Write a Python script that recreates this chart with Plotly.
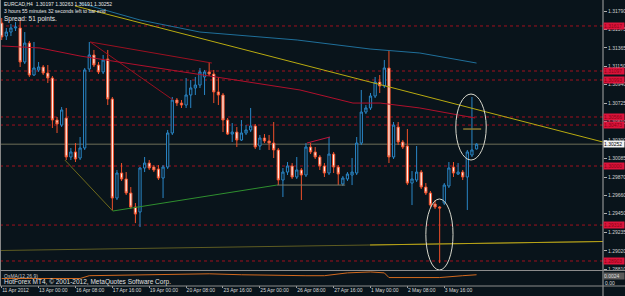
import plotly.graph_objects as go

# ---------------- data ----------------
bars = list(range(104))
opens = [1.31651, 1.31501, 1.31547, 1.31594, 1.31594, 1.31201, 1.31420, 1.31051, 1.31109, 1.31143,
         1.31074, 1.31016, 1.30531, 1.30473, 1.30554, 1.30104, 1.30162, 1.30092, 1.30208, 1.31120,
         1.31282, 1.31166, 1.31086, 1.31236, 1.30774, 1.29630, 1.29919, 1.29850, 1.29688, 1.29526,
         1.29469, 1.29977, 1.30034, 1.29988, 1.29965, 1.29861, 1.29988, 1.30381, 1.30762, 1.30727,
         1.30704, 1.30820, 1.30901, 1.30935, 1.31028, 1.31086, 1.31062, 1.30855, 1.30820, 1.30531,
         1.30369, 1.30392, 1.30300, 1.30381, 1.30416, 1.30462, 1.30231, 1.30323, 1.30289, 1.30265,
         1.30185, 1.29838, 1.29930, 1.30000, 1.29873, 1.29954, 1.29896, 1.30219, 1.30162, 1.30104,
         1.30000, 1.29919, 1.30138, 1.29988, 1.29792, 1.29850, 1.29896, 1.29919, 1.30265, 1.30623,
         1.30670, 1.30808, 1.30970, 1.30924, 1.31132, 1.30104, 1.30450, 1.30277, 1.30231, 1.29803,
         1.29838, 1.29930, 1.29757, 1.29688, 1.29561, 1.29526, 1.29572, 1.29769, 1.29988, 1.29907,
         1.29930, 1.29873, 1.30127, 1.30197]
highs = [1.31709, 1.31594, 1.31640, 1.31663, 1.31686, 1.31547, 1.31444, 1.31432, 1.31201, 1.31166,
         1.31166, 1.31039, 1.30566, 1.30681, 1.30670, 1.30208, 1.30265, 1.30335, 1.31132, 1.31432,
         1.31340, 1.31201, 1.31282, 1.31340, 1.30797, 1.29954, 1.30034, 1.29930, 1.29757, 1.29572,
         1.29988, 1.30104, 1.30069, 1.30011, 1.30011, 1.30011, 1.30416, 1.30797, 1.30785, 1.30762,
         1.31016, 1.30993, 1.31028, 1.31132, 1.31109, 1.31201, 1.31109, 1.31028, 1.30843, 1.30554,
         1.30496, 1.30450, 1.30531, 1.30473, 1.30670, 1.30485, 1.30358, 1.30369, 1.30358, 1.30508,
         1.30208, 1.29977, 1.30046, 1.30034, 1.30104, 1.29977, 1.30265, 1.30265, 1.30219, 1.30127,
         1.30034, 1.30335, 1.30162, 1.30011, 1.29884, 1.29930, 1.30092, 1.30335, 1.30878, 1.30704,
         1.30843, 1.31028, 1.31051, 1.31224, 1.31340, 1.30508, 1.30508, 1.30300, 1.30427, 1.29942,
         1.30231, 1.29954, 1.29803, 1.29711, 1.29607, 1.29538, 1.29803, 1.30046, 1.30046, 1.30034,
         1.29954, 1.30185, 1.30797, 1.30263]
lows = [1.31455, 1.31455, 1.31501, 1.31559, 1.31143, 1.31178, 1.31028, 1.31039, 1.31086, 1.31051,
        1.30958, 1.30439, 1.30381, 1.30450, 1.30069, 1.30069, 1.30046, 1.30069, 1.30185, 1.31086,
        1.31143, 1.31062, 1.31062, 1.30704, 1.29492, 1.29607, 1.29827, 1.29665, 1.29503, 1.29341,
        1.29295, 1.29930, 1.29954, 1.29930, 1.29838, 1.29630, 1.29965, 1.30358, 1.30693, 1.30670,
        1.30670, 1.30670, 1.30820, 1.30901, 1.30820, 1.31039, 1.30727, 1.30704, 1.30392, 1.30358,
        1.30277, 1.30219, 1.30289, 1.30358, 1.30392, 1.30196, 1.30185, 1.30265, 1.30185, 1.30092,
        1.29780, 1.29642, 1.29896, 1.29850, 1.29850, 1.29607, 1.29873, 1.30138, 1.30081, 1.29954,
        1.29873, 1.29896, 1.29919, 1.29780, 1.29769, 1.29827, 1.29780, 1.29896, 1.30242, 1.30600,
        1.30647, 1.30785, 1.30843, 1.30901, 1.30034, 1.30081, 1.30242, 1.30196, 1.29780, 1.29549,
        1.29815, 1.29734, 1.29665, 1.29526, 1.29503, 1.28879, 1.29549, 1.29746, 1.29873, 1.29896,
        1.29838, 1.29492, 1.30104, 1.30191]
closes = [1.31490, 1.31547, 1.31594, 1.31605, 1.31201, 1.31420, 1.31051, 1.31132, 1.31143, 1.31074,
          1.31016, 1.30531, 1.30485, 1.30647, 1.30104, 1.30162, 1.30081, 1.30208, 1.31109, 1.31282,
          1.31166, 1.31086, 1.31224, 1.30774, 1.29630, 1.29919, 1.29850, 1.29688, 1.29526, 1.29445,
          1.29977, 1.30034, 1.29977, 1.29954, 1.29861, 1.29988, 1.30381, 1.30762, 1.30727, 1.30704,
          1.30820, 1.30901, 1.30935, 1.31086, 1.31086, 1.31062, 1.30855, 1.30820, 1.30531, 1.30369,
          1.30392, 1.30300, 1.30381, 1.30416, 1.30462, 1.30219, 1.30323, 1.30289, 1.30265, 1.30185,
          1.29838, 1.29930, 1.30000, 1.29873, 1.29954, 1.29896, 1.30219, 1.30162, 1.30104, 1.30000,
          1.29919, 1.30138, 1.29988, 1.29907, 1.29861, 1.29907, 1.29930, 1.30265, 1.30623, 1.30670,
          1.30808, 1.30970, 1.30924, 1.31132, 1.30104, 1.30473, 1.30277, 1.30219, 1.29803, 1.29850,
          1.29930, 1.29757, 1.29688, 1.29549, 1.29526, 1.29515, 1.29780, 1.29977, 1.29919, 1.29930,
          1.29873, 1.30162, 1.30185, 1.30252]

x_tick_bars = [0, 8, 16, 24, 32, 40, 48, 56, 64, 72, 80, 88, 96]
x_tick_text = ["11 Apr 2012", "13 Apr 00:00", "16 Apr 08:00", "17 Apr 16:00", "19 Apr 00:00",
               "20 Apr 08:00", "23 Apr 16:00", "25 Apr 00:00", "26 Apr 08:00", "27 Apr 16:00",
               "1 May 00:00", "2 May 08:00", "3 May 16:00"]
price_ticks = [1.31790, 1.31575, 1.31365, 1.31150, 1.30940, 1.30725, 1.30510, 1.30300,
               1.30085, 1.29870, 1.29660, 1.29450, 1.29235, 1.29020, 1.28810]
level_prices = [1.31617, 1.31097, 1.30993, 1.30566, 1.30473, 1.30000, 1.29318, 1.28903]
bid_price = 1.30252

yellow_trend_bars = [15.9, 130.4]
yellow_trend_prices = [1.31848, 1.30277]
blue_ma_bars = [17.0, 30.0, 43.0, 64.1, 79.9, 90.7, 103.0]
blue_ma_prices = [1.31882, 1.31686, 1.31547, 1.31455, 1.31351, 1.31305, 1.31189]
red_ma_bars = [0, 8.3, 17.0, 50.2, 64.7, 76.2, 82.1, 90.7, 102.7]
red_ma_prices = [1.31386, 1.31363, 1.31270, 1.30993, 1.30878, 1.30727, 1.30727, 1.30670, 1.30554]
zig_red_a_bars, zig_red_a_prices = [19.2, 37.2], [1.31432, 1.30762]
zig_red_b_bars, zig_red_b_prices = [19.2, 45.6], [1.31432, 1.31189]
zig_olive_bars, zig_olive_prices = [13.7, 24.1], [1.30069, 1.29480]
zig_green_bars, zig_green_prices = [24.1, 59.7], [1.29480, 1.29780]
flat_gray_bars, flat_gray_prices = [59.7, 74.5], [1.29780, 1.29780]
small_red_bars, small_red_prices = [66.2, 71.2], [1.30265, 1.30335]
channel_bars, channel_prices = [-0.37, 130.4], [1.29024, 1.29128]
channel_hi_bars, channel_hi_prices = [79.9, 130.4], [1.29088, 1.29128]
mark_bars, mark_prices = [100.1, 104.0], [1.30427, 1.30427]
ellipse_top = dict(b0=98.5, b1=105.1, p0=1.30069, p1=1.30831)
ellipse_bottom = dict(b0=92.0, b1=97.9, p0=1.28799, p1=1.29619)

osma_bars = [0, 8, 17, 19, 32, 39, 45, 52, 60, 66, 70, 75, 80, 83, 84, 90, 95, 100, 103]
osma_values = [0.0000, 0.0000, 0.0000, 0.0003, 0.0004, 0.0004, 0.0005, 0.0004, 0.0003, 0.0003,
               0.0003, 0.0006, 0.0007, 0.0006, 0.0001, 0.0001, 0.0001, 0.0003, 0.0004]

# ---------------- styling ----------------
BG = "#09141b"
W, H = 625, 296
PLOT_W = 603
MAIN_BOTTOM_PX = 270
SUB_TOP_PX, SUB_BOTTOM_PX = 271, 286
XAXIS_PX = 285
FONT = "Liberation Sans"


def py(px):
    return 1 - px / H


fig = go.Figure()

fig.add_trace(go.Candlestick(
    x=bars, open=opens, high=highs, low=lows, close=closes,
    increasing=dict(line=dict(color="#2a86c6", width=1), fillcolor=BG),
    decreasing=dict(line=dict(color="#f0502a", width=1), fillcolor="#fff0ea"),
    whiskerwidth=0, showlegend=False, hoverinfo="skip",
    xaxis="x", yaxis="y"))


def line(xs, ys, color, width=1, dash="solid", yaxis="y"):
    fig.add_trace(go.Scatter(x=xs, y=ys, mode="lines", line=dict(color=color, width=width, dash=dash),
                             showlegend=False, hoverinfo="skip", xaxis="x", yaxis=yaxis))


line(channel_bars, channel_prices, "#5e5c22")
line(channel_hi_bars, channel_hi_prices, "#b9a417")
line(zig_olive_bars, zig_olive_prices, "#6f6a1c")
line(zig_green_bars, zig_green_prices, "#2f8f2f")
line(flat_gray_bars, flat_gray_prices, "#7a7a66")
line(small_red_bars, small_red_prices, "#c0143c")
line(zig_red_a_bars, zig_red_a_prices, "#9a1020")
line(zig_red_b_bars, zig_red_b_prices, "#9a1020")
line(red_ma_bars, red_ma_prices, "#b0102c")
line(blue_ma_bars, blue_ma_prices, "#1f6f9a")
line(yellow_trend_bars, yellow_trend_prices, "#b8aa10")
line(mark_bars, mark_prices, "#8a7a30", width=1.5)
line(osma_bars, osma_values, "#d2691e", yaxis="y2")

shapes = []
for lp in level_prices:
    shapes.append(dict(type="line", xref="x domain", yref="y", x0=0, x1=1, y0=lp, y1=lp,
                       line=dict(color="#a0101e", width=1, dash="dot"), layer="below"))
shapes.append(dict(type="line", xref="x domain", yref="y", x0=0, x1=1, y0=bid_price, y1=bid_price,
                   line=dict(color="#6e6e58", width=1), layer="below"))
for e in (ellipse_top, ellipse_bottom):
    shapes.append(dict(type="circle", xref="x", yref="y", x0=e["b0"], x1=e["b1"], y0=e["p0"], y1=e["p1"],
                       line=dict(color="#d8d8cc", width=1)))
# window frames
shapes.append(dict(type="line", xref="paper", yref="paper", x0=1, x1=1, y0=0, y1=1,
                   line=dict(color="#a8a8a8", width=1)))
shapes.append(dict(type="line", xref="paper", yref="paper", x0=0.0008, x1=0.0008, y0=py(SUB_BOTTOM_PX), y1=1,
                   line=dict(color="#8a8a8a", width=1)))
for ypx in (MAIN_BOTTOM_PX + 0.5, SUB_BOTTOM_PX):
    shapes.append(dict(type="line", xref="paper", yref="paper", x0=0, x1=W / PLOT_W, y0=py(ypx), y1=py(ypx),
                       line=dict(color="#8c8c8c", width=1)))

annotations = []
label_colors = "#8b0010"
for lp in level_prices:
    annotations.append(dict(xref="paper", yref="y", x=1.0, y=lp, xanchor="left", yanchor="middle",
                            text=f"{lp:.5f}", showarrow=False, bgcolor="#dc143c", width=20, height=6,
                            borderpad=0, font=dict(size=5, color=label_colors, family=FONT), align="left"))
annotations.append(dict(xref="paper", yref="y", x=1.0, y=bid_price, xanchor="left", yanchor="middle",
                        text=f"{bid_price:.5f}", showarrow=False, bgcolor="#f4f4f4", width=20, height=6,
                        borderpad=0, font=dict(size=5, color="#000000", family=FONT), align="left"))

header = [
    ("EURCAD,H4  1.30197 1.30263 1.30191 1.30252", 4, 5),
    ("3 hours 55 minutes 32 seconds left to bar end", 11, 5),
    ("Spread: 51 points.", 19, 6.5),
]
for txt, ypx, fs in header:
    annotations.append(dict(xref="paper", yref="paper", x=0.004, y=py(ypx), xanchor="left", yanchor="middle",
                            text=txt, showarrow=False, font=dict(size=fs, color="#e8e8e8", family=FONT)))
annotations.append(dict(xref="paper", yref="paper", x=0.004, y=py(276), xanchor="left", yanchor="middle",
                        text="OsMA(12,26,9)", showarrow=False, font=dict(size=5, color="#c8c8c8", family=FONT)))
annotations.append(dict(xref="paper", yref="paper", x=0.004, y=py(281.5), xanchor="left", yanchor="middle",
                        text="HotForex MT4, © 2001-2012, MetaQuotes Software Corp.", showarrow=False,
                        font=dict(size=6.5, color="#e0e0e0", family=FONT)))
annotations.append(dict(xref="paper", yref="paper", x=1.0, y=py(276), xanchor="left", yanchor="middle",
                        text="0.0024", showarrow=False, bgcolor="#5a5a5a", width=20, height=6, borderpad=0,
                        font=dict(size=5, color="#dddddd", family=FONT), align="left"))
annotations.append(dict(xref="paper", yref="paper", x=1.0, y=py(283), xanchor="left", yanchor="middle",
                        text="0.00", showarrow=False, font=dict(size=5, color="#dddddd", family=FONT)))

fig.update_layout(
    width=W, height=H, margin=dict(l=0, r=W - PLOT_W, t=0, b=0),
    paper_bgcolor=BG, plot_bgcolor=BG, template="none", showlegend=False,
    shapes=shapes, annotations=annotations,
    xaxis=dict(range=[-0.37, 130.43], domain=[0, 1], anchor="free", position=py(XAXIS_PX),
               showgrid=False, zeroline=False,
               rangeslider=dict(visible=False), tickvals=x_tick_bars, ticktext=x_tick_text,
               ticks="outside", ticklen=2, tickcolor="#a0a0a0", ticklabelposition="outside right",
               tickangle=0, tickfont=dict(size=5, color="#d8d8d8", family=FONT),
               showline=False, automargin=False),
    yaxis=dict(range=[1.28799, 1.31917], domain=[py(MAIN_BOTTOM_PX), 1], side="right", showgrid=False,
               zeroline=False, tickvals=price_ticks, ticktext=[f"{p:.5f}" for p in price_ticks],
               ticks="outside", ticklen=3, tickcolor="#b0b0b0",
               tickfont=dict(size=5, color="#d0d0d0", family=FONT), automargin=False, showline=False),
    yaxis2=dict(range=[-0.0008, 0.0008], domain=[py(SUB_BOTTOM_PX), py(SUB_TOP_PX)], side="right",
                showgrid=False, zeroline=False, showticklabels=False, automargin=False),
)

fig.write_html("out.html")
